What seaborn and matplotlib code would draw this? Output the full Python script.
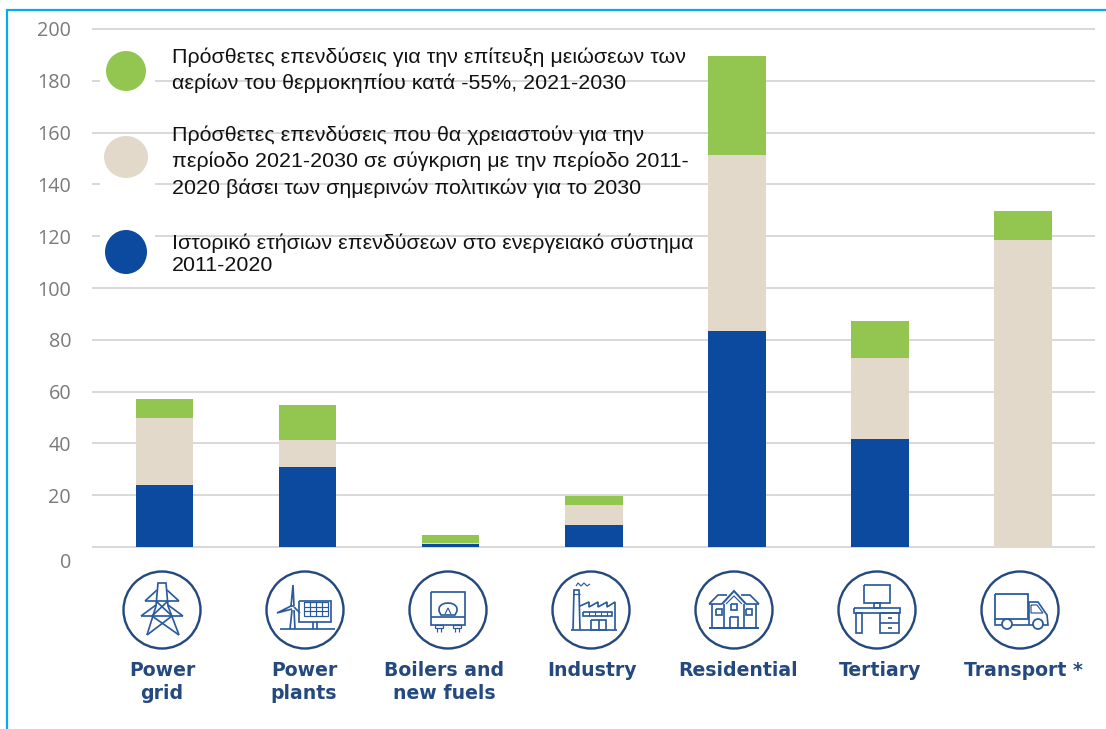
#!/usr/bin/env python3
# stacked investment bars per sector, with hand drawn sector icons below the axis

import matplotlib
matplotlib.use('Agg')
import matplotlib.pyplot as plt
import matplotlib.transforms as mtrans
from matplotlib.patches import Circle, Ellipse, Rectangle
import numpy as np
import seaborn as sns

categories = ['Power\ngrid', 'Power\nplants', 'Boilers and\nnew fuels', 'Industry',
              'Residential', 'Tertiary', 'Transport *']
historic = [23.8, 30.8, 1.2, 8.5, 83.4, 41.7, 0]
needed = [26.2, 10.5, 0.2, 7.8, 68.0, 31.3, 118.5]
extra = [7.1, 13.5, 3.3, 3.5, 38.2, 14.3, 11.2]

legend_labels = [
    'Πρόσθετες επενδύσεις για την επίτευξη μειώσεων των\nαερίων του θερμοκηπίου κατά -55%, 2021-2030',
    'Πρόσθετες επενδύσεις που θα χρειαστούν για την\nπερίοδο 2021-2030 σε σύγκριση με την περίοδο 2011-\n2020 βάσει των σημερινών πολιτικών για το 2030',
    'Ιστορικό ετήσιων επενδύσεων στο ενεργειακό σύστημα\n2011-2020',
]
yticks = list(range(0, 201, 20))

GREEN = '#92c650'
BEIGE = '#e3d9ca'
BLUE = '#0b4a9f'
GRID = '#d9d9d9'
NAVY = '#24497f'
ICON = '#2b5a9c'
W, H = 1106, 729


def px(v):
    # pixels to points
    return v * 72 / 100


def poly(ax, cx, cy, pts, closed=False, lw=1.7):
    pts = list(pts)
    if closed:
        pts.append(pts[0])
    ax.plot([cx + p[0] for p in pts], [cy + p[1] for p in pts], color=ICON, lw=px(lw),
            solid_joinstyle='miter', solid_capstyle='butt')


def rect(ax, cx, cy, x0, y0, x1, y1, lw=1.7):
    poly(ax, cx, cy, [(x0, y0), (x1, y0), (x1, y1), (x0, y1)], closed=True, lw=lw)


def icon_pylon(ax, cx, cy):
    poly(ax, cx, cy, [(-15, 25), (-6, -4), (-4, -27), (4, -27), (6, -4), (17, 25)])
    poly(ax, cx, cy, [(-17, -9), (17, -9)])
    poly(ax, cx, cy, [(-21, 6), (21, 6)])
    poly(ax, cx, cy, [(-17, -9), (-5, -20)])
    poly(ax, cx, cy, [(17, -9), (5, -20)])
    poly(ax, cx, cy, [(-21, 6), (-6, -5)])
    poly(ax, cx, cy, [(21, 6), (6, -5)])
    poly(ax, cx, cy, [(-6, -9), (10, 6), (-15, 25)])
    poly(ax, cx, cy, [(6, -9), (-10, 6), (17, 25)])


def icon_plants(ax, cx, cy):
    poly(ax, cx, cy, [(-25, 19), (30, 19)])
    poly(ax, cx, cy, [(-15, 19), (-13, 0)])
    poly(ax, cx, cy, [(-10, 19), (-11, 0)])
    poly(ax, cx, cy, [(-11, -4), (-12, -25), (-14, -4)], closed=True)
    poly(ax, cx, cy, [(-14, -4), (-28, 3), (-13, -1)])
    poly(ax, cx, cy, [(-11, -3), (-5, 3)])
    rect(ax, cx, cy, -6, -9, 26, 12)
    rect(ax, cx, cy, -1, -8, 23, 6, lw=1.2)
    for x in [5, 11, 17]:
        poly(ax, cx, cy, [(x, -8), (x, 6)], lw=1.2)
    for y in [-3, 1]:
        poly(ax, cx, cy, [(-1, y), (23, y)], lw=1.2)
    poly(ax, cx, cy, [(8, 12), (8, 19)])
    poly(ax, cx, cy, [(12, 12), (12, 19)])


def icon_boiler(ax, cx, cy):
    rect(ax, cx, cy, -17, -18, 17, 15)
    poly(ax, cx, cy, [(-17, 7), (17, 7)])
    t = np.linspace(np.pi, 0, 20)
    arc = list(zip(9 * np.cos(t), -1 - 6 * np.sin(t)))
    poly(ax, cx, cy, arc + [(9, 1), (7, 5), (-7, 5), (-9, 1)], closed=True)
    poly(ax, cx, cy, [(-3, 4), (0, -2), (3, 4)], lw=1.2)
    for x in [-9, 9]:
        rect(ax, cx, cy, x - 4, 15, x + 4, 18, lw=1.2)
        poly(ax, cx, cy, [(x - 2, 18), (x - 2, 22)], lw=1.2)
        poly(ax, cx, cy, [(x + 2, 18), (x + 2, 22)], lw=1.2)


def icon_factory(ax, cx, cy):
    poly(ax, cx, cy, [(-20, 20), (26, 20)])
    poly(ax, cx, cy, [(-18, 20), (-17, -20), (-12, -20), (-11, 20)])
    poly(ax, cx, cy, [(-18, -16), (-11, -16)], lw=1.2)
    poly(ax, cx, cy, [(-11, -4), (-2, -8), (-2, -3), (7, -8), (7, -3), (16, -8), (16, -3),
                      (24, -8), (24, 20)])
    rect(ax, cx, cy, -8, 2, 21, 6)
    for x in [-2, 4, 10, 16]:
        poly(ax, cx, cy, [(x, 2), (x, 6)], lw=1)
    rect(ax, cx, cy, 0, 10, 15, 20)
    poly(ax, cx, cy, [(7.5, 10), (7.5, 20)])
    poly(ax, cx, cy, [(-15, -24), (-13, -27), (-10, -24), (-7, -27), (-4, -24), (-1, -26)], lw=1.2)


def icon_house(ax, cx, cy):
    poly(ax, cx, cy, [(-25, 18), (25, 18)], lw=2)
    poly(ax, cx, cy, [(-12, -6), (0, -19), (12, -6)], lw=2)
    poly(ax, cx, cy, [(-8, -6), (0, -14), (8, -6)], lw=1.2)
    poly(ax, cx, cy, [(-25, -6), (-16, -15), (-7, -15)])
    poly(ax, cx, cy, [(25, -6), (16, -15), (7, -15)])
    poly(ax, cx, cy, [(-25, -6), (-12, -6)])
    poly(ax, cx, cy, [(25, -6), (12, -6)])
    for x in [-22, -10, 10, 22]:
        poly(ax, cx, cy, [(x, -6), (x, 18)])
    for x, y in [(-15, 2), (0, -3), (15, 2)]:
        rect(ax, cx, cy, x - 3, y - 3, x + 3, y + 3)
    rect(ax, cx, cy, -4, 7, 4, 18)


def icon_desk(ax, cx, cy):
    rect(ax, cx, cy, -13, -25, 13, -7)
    rect(ax, cx, cy, -3, -7, 3, -2)
    rect(ax, cx, cy, -23, -2, 23, 3)
    rect(ax, cx, cy, -21, 3, -15, 23)
    rect(ax, cx, cy, 3, 3, 22, 23)
    poly(ax, cx, cy, [(3, 13), (22, 13)])
    poly(ax, cx, cy, [(11, 8), (15, 8)])
    poly(ax, cx, cy, [(11, 18), (15, 18)])


def icon_truck(ax, cx, cy):
    rect(ax, cx, cy, -25, -16, 8, 9, lw=1.8)
    poly(ax, cx, cy, [(-25, 9), (-25, 15), (-18, 15)])
    poly(ax, cx, cy, [(-8, 15), (13, 15)])
    poly(ax, cx, cy, [(9, 15), (9, -8), (18, -8), (27, 5), (28, 15), (23, 15)])
    poly(ax, cx, cy, [(11, -5), (17, -5), (23, 3), (11, 3)], closed=True, lw=1.2)
    for x in [-13, 18]:
        ax.add_patch(Circle((cx + x, cy + 14), 5, fc='white', ec=ICON, lw=px(1.8), zorder=3))


icons = [icon_pylon, icon_plants, icon_boiler, icon_factory, icon_house, icon_desk, icon_truck]

sns.set_theme(style='white')
plt.rcParams['font.family'] = ['Liberation Sans', 'DejaVu Sans']

fig = plt.figure(figsize=(W / 100, H / 100), dpi=100)
ax = fig.add_axes([92 / W, 1 - 549.6 / H, (1095 - 92) / W, (549.6 - 26.4) / H])

totals1 = np.array(historic)
totals2 = totals1 + np.array(needed)
totals3 = totals2 + np.array(extra)

# stacked look: tallest first, the shorter sums painted over it
for total, colour in [(totals3, GREEN), (totals2, BEIGE), (totals1, BLUE)]:
    sns.barplot(x=categories, y=total, color=colour, width=0.402, saturation=1, ax=ax,
                zorder=3, edgecolor='none', linewidth=0)

ax.set_xlim(-0.507, 6.503)
ax.set_ylim(-1, 201)
ax.set_yticks(yticks)
ax.grid(axis='y', color=GRID, lw=px(2), zorder=0)
ax.grid(axis='x', visible=False)
ax.set_axisbelow(True)
sns.despine(ax=ax, left=True, bottom=True)

ax.tick_params(axis='y', length=0, pad=px(21), labelsize=14.2, labelcolor='#7a7a7a')
ax.tick_params(axis='x', length=0, pad=px(111), labelsize=13.6, labelcolor=NAVY)
for lab in ax.get_yticklabels():
    lab.set_family(['Open Sans', 'DejaVu Sans'])
# the 0 label sits well below its gridline in the original
zero = ax.get_yticklabels()[0]
zero.set_transform(zero.get_transform() + mtrans.ScaledTranslation(0, -px(13) / 72, fig.dpi_scale_trans))

label_shift = [-2.5, -3.5, -6.5, -2, 1.5, 0, 0]
for lab, dx in zip(ax.get_xticklabels(), label_shift):
    lab.set_family('DejaVu Sans')
    lab.set_fontweight('bold')
    lab.set_linespacing(1.3)
    lab.set_transform(lab.get_transform() + mtrans.ScaledTranslation(px(dx) / 72, 0, fig.dpi_scale_trans))

# overlay in pixel coordinates for frame, legend and icons
ov = fig.add_axes([0, 0, 1, 1])
ov.set_xlim(0, W)
ov.set_ylim(H, 0)
ov.axis('off')
ov.patch.set_visible(False)

ov.plot([6.5, 6.5], [H, 9.5], color='#00aeef', lw=px(2.2))
ov.plot([6.5, W], [9.5, 9.5], color='#00aeef', lw=px(2.2))

swatches = [(126, 71, 40, 40, GREEN, 42, 97), (126, 157, 44, 42, BEIGE, 135, 187), (126, 252, 42, 44, BLUE, 226, 276)]
text_tops = [47, 125, 233]
text_spacing = [1.48, 1.47, 1.2]
for (x, y, w, h, colour, top, bottom), label, ty, ls in zip(swatches, legend_labels, text_tops, text_spacing):
    ov.add_patch(Rectangle((100, top), 55, bottom - top, fc='white', ec='none'))
    ov.add_patch(Ellipse((x, y), w, h, fc=colour, ec='none'))
    ov.text(172, ty, label, fontsize=15.38, color='#111111', va='top', ha='left', linespacing=ls)

for i, draw in enumerate(icons):
    cx = 162 + 143 * i
    ov.add_patch(Circle((cx, 610), 38.5, fc='none', ec=NAVY, lw=px(2.4)))
    draw(ov, cx, 610)
ov.set_xlim(0, W)
ov.set_ylim(H, 0)

fig.savefig('out.png', dpi=100)
